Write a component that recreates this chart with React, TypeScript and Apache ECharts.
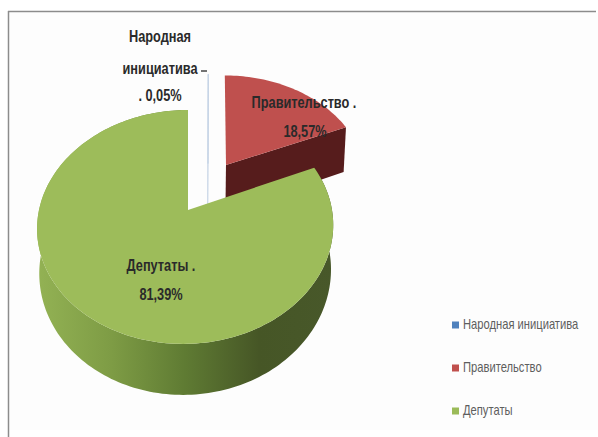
import React, { useEffect, useRef } from "react";
import * as echarts from "echarts";

const categories = ["Народная инициатива", "Правительство", "Депутаты"];
const values = [0.05, 18.57, 81.39];
const labelLines = [
  ["Народная", "инициатива", ". 0,05%"],
  ["Правительство .", "18,57%"],
  ["Депутаты .", "81,39%"],
];
const topColors = ["#c6d4e6", "#bf504e", "#9dbc5a"];
const legendColors = ["#4f81bd", "#c0504d", "#9bbb59"];

// Layout: a perspective projection of the pie's plane
const CX = 188, CY = 210, A = 146.5, B = 114.5, K = 0.145;
const BOTTOM_SCALE = 0.985;
const explode = [[0.145, 0.43], [0.275, 0.417], [0, 0]];
const shear = [2.4, 3, 2.5];
const rimShift = [0, 0, -2.5];
const depth = [50, 50, 43.6];
const labelPos = [
  [[160, 36], [160, 68], [160, 95]],
  [[304, 102], [305, 131]],
  [[161, 265], [161, 294]],
];
const legendY = [325, 368, 411];
const FONT = '"Liberation Sans", sans-serif';
const LABEL_SCALE = 0.75;
const LEGEND_SCALE = 0.8;

function App() {
  const ref = useRef<HTMLDivElement>(null);
  useEffect(() => {
    const chart = echarts.init(ref.current!, null, { renderer: "svg" });
    const total = values.reduce((a, b) => a + b, 0);
    const proj = (i: number, u: number, v: number, h = 0, isRim = false) => {
      const [u0, v0] = explode[i];
      const uu = u + u0, vv = v + v0;
      const w = 1 + K * vv;
      const s = h ? BOTTOM_SCALE : 1;
      const dx = shear[i] * v + (isRim ? rimShift[i] : 0);
      return [CX + dx + (s * A * uu) / w, CY - (B * vv) / w + h / w];
    };
    const rim = (i: number, a0: number, a1: number, h = 0) => {
      const n = Math.max(2, Math.ceil((a1 - a0) * 40));
      const pts: number[][] = [];
      for (let j = 0; j <= n; j++) {
        const t = a0 + ((a1 - a0) * j) / n;
        pts.push(proj(i, Math.sin(t), Math.cos(t), h, true));
      }
      return pts;
    };
    const renderItem = (i: number) => (_p: any, api: any) => {
      const before = values.slice(0, i).reduce((a, b) => a + b, 0);
      const a0 = (before / total) * Math.PI * 2;
      const a1 = ((before + api.value(0)) / total) * Math.PI * 2;
      const h = depth[i];
      const children: any[] = [];
      const apex = proj(i, 0, 0);
      const apexB = proj(i, 0, 0, h);
      if (i === 2) {
        const band = [...rim(i, a0, a1), ...rim(i, a0, a1, h).reverse()];
        children.push({
          type: "polygon",
          shape: { points: band },
          style: {
            fill: new echarts.graphic.LinearGradient(0, 0, 1, 0, [
              { offset: 0, color: "#93b254" },
              { offset: 0.25, color: "#7e9c45" },
              { offset: 0.5, color: "#5f7b33" },
              { offset: 0.75, color: "#465626" },
              { offset: 1, color: "#48582a" },
            ]),
          },
        });
      } else {
        const c = rim(i, a1, a1)[0];
        const cB = rim(i, a1, a1, h)[0];
        children.push({
          type: "polygon",
          shape: { points: [apex, c, cB, apexB] },
          style: {
            fill: i === 1 ? "#561c1c" : topColors[i],
            stroke: i === 0 ? topColors[i] : undefined,
            lineWidth: 0.8,
          },
        });
      }
      children.push({
        type: "polygon",
        shape: { points: [apex, ...rim(i, a0, a1)] },
        style: {
          fill: topColors[i],
          stroke: i === 0 ? topColors[i] : undefined,
          lineWidth: 0.8,
        },
      });
      if (i === 0) {
        children.push({
          type: "line",
          shape: { x1: 201, y1: 71, x2: 207, y2: 71 },
          style: { stroke: "#444", lineWidth: 1.5 },
        });
      }
      labelLines[i].forEach((t, k) => {
        const [x, y] = labelPos[i][k];
        children.push({
          type: "text",
          z2: 10,
          x,
          y,
          scaleX: LABEL_SCALE,
          style: {
            text: t,
            x: 0,
            y: 0,
            fill: "#2a2a2a",
            font: `bold 17px ${FONT}`,
            align: "center",
            verticalAlign: "middle",
            textAlign: "center",
            textVerticalAlign: "middle",
          },
        });
      });
      return { type: "group", children };
    };
    const legendItems = categories.flatMap((name, i) => [
      {
        type: "rect",
        shape: { x: 452, y: legendY[i] - 3.5, width: 7, height: 7 },
        style: { fill: legendColors[i] },
      },
      {
        type: "text",
        x: 463,
        y: legendY[i],
        scaleX: LEGEND_SCALE,
        style: {
          text: name,
          x: 0,
          y: 0,
          fill: "#5e5e5e",
          font: `14px ${FONT}`,
          align: "left",
          verticalAlign: "middle",
          textAlign: "left",
          textVerticalAlign: "middle",
        },
      },
    ]);
    chart.setOption({
      animation: false,
      backgroundColor: "#ffffff",
      graphic: [
        { type: "rect", z: -1, shape: { x: 10, y: 13, width: 588, height: 417 }, style: { fill: "#fdfdfd" } },
        { type: "line", shape: { x1: 8, y1: 11.5, x2: 596, y2: 11.5 }, style: { stroke: "#8c8c8c", lineWidth: 1.5 } },
        { type: "line", shape: { x1: 8.5, y1: 11, x2: 8.5, y2: 437 }, style: { stroke: "#8c8c8c", lineWidth: 1.5 } },
        ...legendItems,
      ],
      series: categories.map((name, i) => ({
        type: "custom",
        name,
        coordinateSystem: "none",
        silent: true,
        z: i === 0 ? 3 : i === 1 ? 2 : 4,
        itemStyle: { color: legendColors[i] },
        data: [[values[i]]],
        renderItem: renderItem(i),
      })),
    });
    return () => chart.dispose();
  }, []);
  return <div ref={ref} style={{ position: "fixed", left: 0, top: 0, width: 598, height: 437 }} />;
}

export default App;
